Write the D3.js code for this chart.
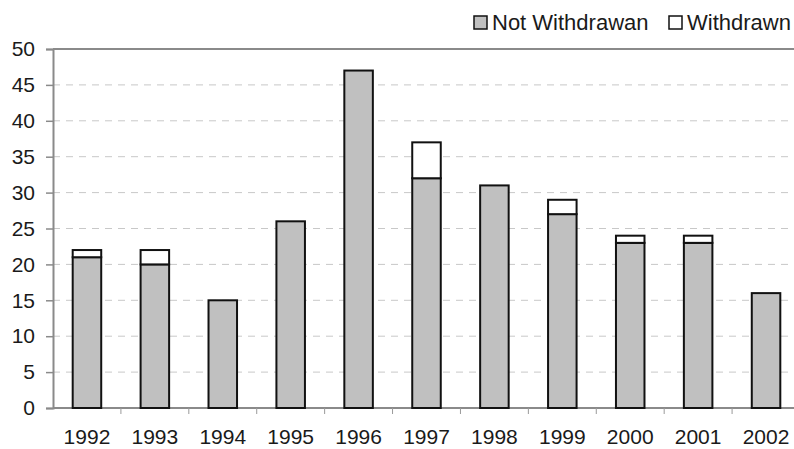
<!DOCTYPE html>
<html>
<head>
<meta charset="utf-8">
<script src="https://cdn.jsdelivr.net/npm/d3@7"></script>
<style>
  body { margin: 0; background: #fff; }
  svg { display: block; font-family: "Liberation Sans", Arial, sans-serif; }
</style>
</head>
<body>
<svg id="chart" width="794" height="449"></svg>
<script>
const years = ["1992","1993","1994","1995","1996","1997","1998","1999","2000","2001","2002"];
const notWithdrawn = [21, 20, 15, 26, 47, 32, 31, 27, 23, 23, 16];
const withdrawn    = [1, 2, 0, 0, 0, 5, 0, 2, 1, 1, 0];
const yTicks = [0, 5, 10, 15, 20, 25, 30, 35, 40, 45, 50];
const seriesNames = ["Not Withdrawan", "Withdrawn"];

const svg = d3.select("#chart");
const plotLeft = 53, plotRight = 800, plotTop = 49, plotBottom = 408;
const fontSize = 21;

const x = d3.scaleBand().domain(years).range([plotLeft, plotRight]).paddingInner(0).paddingOuter(0);
const y = d3.scaleLinear().domain([0, 50]).range([plotBottom, plotTop]);
const barW = x.bandwidth() * 0.42;

// dashed gridlines
svg.append("g").selectAll("line")
  .data(yTicks.filter(t => t > 0 && t < 50))
  .join("line")
  .attr("x1", plotLeft).attr("x2", plotRight)
  .attr("y1", d => y(d)).attr("y2", d => y(d))
  .attr("stroke", "#c8c8c8").attr("stroke-width", 1)
  .attr("stroke-dasharray", "7,6");

// top border
svg.append("line")
  .attr("x1", plotLeft).attr("x2", plotRight)
  .attr("y1", y(50)).attr("y2", y(50))
  .attr("stroke", "#8a8a8a").attr("stroke-width", 2);

// y axis
const yAxis = svg.append("g").attr("transform", `translate(${plotLeft},0)`)
  .call(d3.axisLeft(y).tickValues(yTicks).tickSize(7).tickPadding(11));
yAxis.attr("font-size", fontSize).attr("font-family", "Liberation Sans, Arial, sans-serif");
yAxis.select(".domain").attr("stroke", "#8a8a8a").attr("stroke-width", 2);
yAxis.selectAll(".tick line").attr("stroke", "#8a8a8a").attr("stroke-width", 1.5);
yAxis.selectAll("text").attr("fill", "#1a1a1a");

// x axis with ticks at category boundaries
svg.append("line")
  .attr("x1", plotLeft).attr("x2", plotRight)
  .attr("y1", plotBottom).attr("y2", plotBottom)
  .attr("stroke", "#8a8a8a").attr("stroke-width", 2);
svg.append("g").selectAll("line")
  .data(years.slice(1))
  .join("line")
  .attr("x1", d => x(d)).attr("x2", d => x(d))
  .attr("y1", plotBottom).attr("y2", plotBottom + 6)
  .attr("stroke", "#9a9a9a").attr("stroke-width", 1);
svg.append("g").selectAll("text")
  .data(years)
  .join("text")
  .attr("x", d => x(d) + x.bandwidth() / 2)
  .attr("y", 444)
  .attr("text-anchor", "middle")
  .attr("font-size", fontSize).attr("fill", "#1a1a1a")
  .text(d => d);

// stacked bars
const bars = svg.append("g");
years.forEach((yr, i) => {
  const cx = x(yr) + x.bandwidth() / 2;
  const a = notWithdrawn[i], b = withdrawn[i];
  bars.append("rect")
    .attr("x", cx - barW / 2).attr("width", barW)
    .attr("y", y(a)).attr("height", y(0) - y(a))
    .attr("fill", "#c0c0c0").attr("stroke", "#111").attr("stroke-width", 2);
  if (b > 0) {
    bars.append("rect")
      .attr("x", cx - barW / 2).attr("width", barW)
      .attr("y", y(a + b)).attr("height", y(a) - y(a + b))
      .attr("fill", "#fff").attr("stroke", "#111").attr("stroke-width", 2);
  }
});

// legend
const legend = svg.append("g");
const legendItems = [
  { name: seriesNames[0], fill: "#c0c0c0", x: 474 },
  { name: seriesNames[1], fill: "#fff", x: 669 }
];
legendItems.forEach(it => {
  legend.append("rect")
    .attr("x", it.x).attr("y", 16).attr("width", 13).attr("height", 13)
    .attr("fill", it.fill).attr("stroke", "#111").attr("stroke-width", 1.5);
  legend.append("text")
    .attr("x", it.x + 18).attr("y", 30)
    .attr("font-size", 22).attr("fill", "#1a1a1a")
    .text(it.name);
});
</script>
</body>
</html>
